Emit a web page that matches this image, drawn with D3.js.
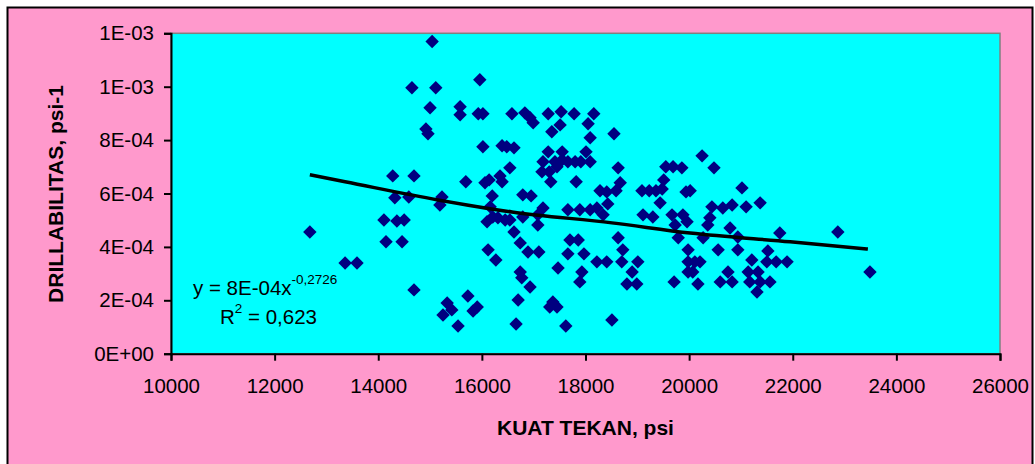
<!DOCTYPE html>
<html>
<head>
<meta charset="utf-8">
<script src="https://cdn.jsdelivr.net/npm/d3@7"></script>
<style>
  html, body { margin: 0; padding: 0; background: #ffffff; }
  #chart { width: 1035px; height: 464px; }
  text { font-family: "Liberation Sans", Arial, sans-serif; }
</style>
</head>
<body>
<div id="chart"></div>
<script>
// kuat tekan (psi) vs drillabilitas (psi-1)
const kuatTekan = [
    12680, 13360, 13590, 14110, 14360, 14500, 14150, 14460, 14280, 14690,
    14320, 14590, 14690, 14650, 15110, 15040, 15000, 14920, 14960, 15230,
    15190, 15330, 15250, 15420, 15540, 15730, 15830, 15910, 15580, 15580,
    15930, 16020, 15960, 16020, 15690, 16060, 16140, 16100, 16120, 16270,
    16310, 16450, 16160, 16200, 16210, 16390, 16480, 16620, 16580, 16830,
    16930, 16990, 16540, 16350, 16390, 16540, 16620, 16740, 16890, 17100,
    16740, 16770, 16930, 16700, 16660, 16790, 16950, 17080, 17180, 16790,
    17080, 17280, 17530, 17780, 18160, 17510, 17350, 18050, 18090, 18550,
    17280, 17550, 18010, 17180, 17160, 17300, 17410, 17450, 17550, 17660,
    17800, 17910, 18090, 17330, 17820, 18630, 18670, 18590, 18280, 18410,
    19090, 19230, 19360, 19480, 19510, 19550, 19690, 19860, 19940, 17660,
    17890, 18090, 18220, 18340, 18430, 17700, 17860, 17660, 17970, 18630,
    18720, 18220, 18410, 18700, 19010, 17470, 17930, 17890, 18900, 18800,
    18990, 19710, 17370, 17310, 17450, 18510, 17620, 19110, 19300, 19670,
    19880, 19730, 19790, 19440, 19980, 19980, 20250, 20480, 21020, 20020,
    20440, 20650, 20830, 21100, 21370, 20360, 20400, 20790, 20940, 20270,
    20560, 20940, 21520, 21750, 22870, 23490, 20110, 20210, 20070, 20170,
    20750, 20600, 20830, 21210, 21140, 21330, 21170, 21370, 21560, 21310,
    21500, 21680, 21890, 19960, 19980
];
const drillabilitas = [
    4.56e-4, 3.40e-4, 3.40e-4, 5.01e-4, 4.97e-4, 5.01e-4, 4.19e-4, 4.19e-4, 6.66e-4, 6.66e-4,
    5.84e-4, 5.87e-4, 2.39e-4, 9.96e-4, 9.96e-4, 11.69e-4, 9.21e-4, 8.42e-4, 8.24e-4, 5.87e-4,
    5.57e-4, 1.90e-4, 1.45e-4, 1.64e-4, 1.04e-4, 2.16e-4, 1.60e-4, 1.75e-4, 9.25e-4, 8.95e-4,
    8.99e-4, 8.99e-4, 10.26e-4, 7.75e-4, 6.44e-4, 6.40e-4, 6.51e-4, 4.94e-4, 3.89e-4, 3.51e-4,
    5.09e-4, 5.01e-4, 5.50e-4, 5.91e-4, 5.12e-4, 7.79e-4, 7.75e-4, 7.71e-4, 8.99e-4, 9.02e-4,
    8.84e-4, 8.65e-4, 6.96e-4, 6.66e-4, 6.44e-4, 5.01e-4, 4.56e-4, 4.15e-4, 3.81e-4, 3.81e-4,
    3.06e-4, 2.84e-4, 2.50e-4, 2.01e-4, 1.11e-4, 5.95e-4, 5.91e-4, 5.20e-4, 5.46e-4, 5.12e-4,
    4.82e-4, 8.99e-4, 9.06e-4, 8.99e-4, 8.99e-4, 8.57e-4, 8.31e-4, 8.61e-4, 8.09e-4, 8.24e-4,
    7.56e-4, 7.56e-4, 7.56e-4, 7.19e-4, 6.81e-4, 6.81e-4, 7.19e-4, 7.00e-4, 7.26e-4, 7.19e-4,
    7.19e-4, 7.19e-4, 7.19e-4, 6.44e-4, 6.44e-4, 6.96e-4, 6.40e-4, 6.10e-4, 6.10e-4, 6.06e-4,
    6.10e-4, 6.10e-4, 6.10e-4, 6.17e-4, 6.51e-4, 7.00e-4, 7.00e-4, 6.96e-4, 6.06e-4, 5.39e-4,
    5.39e-4, 5.39e-4, 5.46e-4, 5.20e-4, 5.61e-4, 4.26e-4, 4.26e-4, 3.74e-4, 3.74e-4, 4.34e-4,
    3.89e-4, 3.44e-4, 3.44e-4, 3.44e-4, 3.44e-4, 3.21e-4, 3.06e-4, 2.69e-4, 3.06e-4, 2.61e-4,
    2.61e-4, 2.69e-4, 1.94e-4, 1.75e-4, 1.75e-4, 1.26e-4, 1.04e-4, 5.20e-4, 5.12e-4, 5.20e-4,
    5.20e-4, 4.82e-4, 4.34e-4, 5.65e-4, 3.44e-4, 3.06e-4, 7.41e-4, 6.96e-4, 6.21e-4, 6.10e-4,
    5.50e-4, 5.46e-4, 5.57e-4, 5.50e-4, 5.65e-4, 4.82e-4, 5.09e-4, 4.71e-4, 4.37e-4, 4.34e-4,
    3.89e-4, 3.89e-4, 3.85e-4, 4.52e-4, 4.56e-4, 3.06e-4, 3.44e-4, 3.44e-4, 3.06e-4, 2.61e-4,
    3.06e-4, 2.69e-4, 2.69e-4, 3.51e-4, 3.06e-4, 3.06e-4, 2.69e-4, 2.69e-4, 2.69e-4, 2.31e-4,
    3.44e-4, 3.44e-4, 3.44e-4, 4.94e-4, 3.89e-4
];

// power trendline as drawn
const trendX = [12680, 13360, 15150, 16580, 18510, 20020, 21950, 23450];
const trendY = [6.70e-4, 6.44e-4, 5.76e-4, 5.31e-4, 4.90e-4, 4.52e-4, 4.19e-4, 3.92e-4];

const xTicks = [10000, 12000, 14000, 16000, 18000, 20000, 22000, 24000, 26000];
const yTicks = [0, 2e-4, 4e-4, 6e-4, 8e-4, 1e-3, 1.2e-3];
const yTickLabels = ["0E+00", "2E-04", "4E-04", "6E-04", "8E-04", "1E-03", "1E-03"];

const margin = { top: 33.3, right: 35, bottom: 110.3, left: 171 },
    W = 1035, H = 464,
    width = W - margin.left - margin.right,
    height = H - margin.top - margin.bottom;

const root = d3.select("#chart")
    .append("svg")
    .attr("width", W)
    .attr("height", H);

// chart area background with black frame
root.append("rect")
    .attr("x", 7.5).attr("y", 7.5)
    .attr("width", 1025).attr("height", 470)
    .attr("fill", "#FF99CC")
    .attr("stroke", "#000")
    .attr("stroke-width", 2);

const svg = root.append("g")
    .attr("transform", `translate(${margin.left},${margin.top})`);

const x = d3.scaleLinear().domain([10000, 26000]).range([0, width]);
const y = d3.scaleLinear().domain([0, 1.2e-3]).range([height, 0]);

// plot area
svg.append("rect")
    .attr("width", width).attr("height", height)
    .attr("fill", "#00FFFF")
    .attr("stroke", "#808080")
    .attr("stroke-width", 1.5);

// points
const points = kuatTekan.map((k, i) => ({ k: k, d: drillabilitas[i] }));
svg.selectAll(".dot")
    .data(points)
    .enter().append("path")
    .attr("class", "dot")
    .attr("d", d3.symbol(d3.symbolSquare, 90))
    .attr("transform", d => `translate(${x(d.k)},${y(d.d)}) rotate(45)`)
    .attr("fill", "#000080");

// trendline
const trend = trendX.map((k, i) => ({ k: k, d: trendY[i] }));
svg.append("path")
    .datum(trend)
    .attr("fill", "none")
    .attr("stroke", "#000")
    .attr("stroke-width", 3.5)
    .attr("d", d3.line().x(d => x(d.k)).y(d => y(d.d)).curve(d3.curveMonotoneX));

// axes
const xAxis = svg.append("g")
    .attr("transform", `translate(0,${height})`)
    .call(d3.axisBottom(x).tickValues(xTicks).tickSize(7).tickPadding(18).tickFormat(d3.format("d")));
const yAxis = svg.append("g")
    .call(d3.axisLeft(y).tickValues(yTicks).tickSize(7).tickPadding(10)
        .tickFormat((d, i) => yTickLabels[i]));

[xAxis, yAxis].forEach(a => {
    a.select(".domain").attr("stroke", "#000").attr("stroke-width", 2);
    a.selectAll(".tick line").attr("stroke", "#000").attr("stroke-width", 2);
    a.selectAll(".tick text")
        .attr("fill", "#000")
        .style("font-size", "20.5px")
        .style("font-family", "'Liberation Sans', Arial, sans-serif");
});

// axis titles
svg.append("text")
    .attr("x", width / 2)
    .attr("y", height + 81)
    .attr("text-anchor", "middle")
    .style("font-size", "21px")
    .style("font-weight", "bold")
    .text("KUAT TEKAN, psi");

svg.append("text")
    .attr("transform", "rotate(-90)")
    .attr("x", -(194 - margin.top))
    .attr("y", 63 - margin.left)
    .attr("text-anchor", "middle")
    .style("font-size", "21px")
    .style("font-weight", "bold")
    .text("DRILLABILITAS, psi-1");

// trendline equation
const eq = svg.append("text")
    .attr("x", 193 - margin.left)
    .attr("y", 295 - margin.top)
    .style("font-size", "20.5px");
eq.append("tspan").text("y = 8E-04x");
eq.append("tspan").attr("dy", -11).style("font-size", "13.5px").text("-0,2726");

const r2 = svg.append("text")
    .attr("x", 220 - margin.left)
    .attr("y", 324 - margin.top)
    .style("font-size", "20.5px");
r2.append("tspan").text("R");
r2.append("tspan").attr("dy", -11).style("font-size", "13.5px").text("2");
r2.append("tspan").attr("dy", 11).text(" = 0,623");
</script>
</body>
</html>
